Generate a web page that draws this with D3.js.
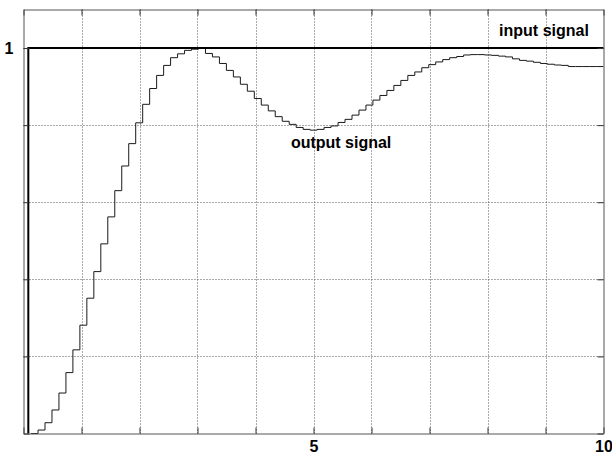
<!DOCTYPE html>
<html>
<head>
<meta charset="utf-8">
<script src="https://cdn.jsdelivr.net/npm/d3@7"></script>
<style>
  body { margin: 0; background: #fff; }
  svg { display: block; }
</style>
</head>
<body>
<div id="chart"></div>
<script>
// eixos
const xTicks = [0, 1, 2, 3, 4, 5, 6, 7, 8, 9, 10];
const xLabels = [5, 10];
const yTicks = [0, 0.2, 0.4, 0.6, 0.8, 1];
const yLabels = [1];

// entrada: degrau
const inputTime = [0.083, 0.083, 10];
const inputValue = [0, 1, 1];

// saída amostrada (segurador de ordem zero)
const sampleStart = 0.13;
const sampleTime = 0.1203;
const outputValue = [
  0, 0.009, 0.028, 0.061, 0.105, 0.158, 0.217, 0.281, 0.351, 0.420,
  0.492, 0.562, 0.630, 0.694, 0.752, 0.806, 0.854, 0.895, 0.929, 0.955,
  0.975, 0.985, 0.994, 0.997, 0.999, 0.986, 0.977, 0.960, 0.942, 0.925,
  0.906, 0.888, 0.869, 0.852, 0.837, 0.822, 0.810, 0.802, 0.794, 0.789,
  0.787, 0.789, 0.794, 0.798, 0.807, 0.815, 0.826, 0.839, 0.852, 0.865,
  0.877, 0.890, 0.903, 0.916, 0.929, 0.938, 0.949, 0.957, 0.964, 0.970,
  0.975, 0.978, 0.982, 0.983, 0.983, 0.982, 0.981, 0.979, 0.977, 0.972,
  0.968, 0.966, 0.963, 0.960, 0.958, 0.956, 0.955, 0.952, 0.952, 0.952,
  0.952, 0.952, 0.952
];

const labels = [
  { text: 'input signal', t: 8.2, v: 1.03 },
  { text: 'output signal', t: 4.61, v: 0.741 }
];

const largura = 612, altura = 455;
const font = '"Liberation Sans", Arial, sans-serif';

const svg = d3.select('#chart')
  .append('svg')
  .attr('width', largura)
  .attr('height', altura)
  .attr('viewBox', '0 0 ' + largura + ' ' + altura);

const x = d3.scaleLinear().domain([0, 10]).range([23.5, 603.5]);
const y = d3.scaleLinear().domain([0, 1.1]).range([433.5, 9.5]);

// grade pontilhada
const grid = svg.append('g').attr('class', 'grid')
  .attr('stroke', '#555')
  .attr('stroke-width', 1)
  .attr('stroke-dasharray', '1,2');
grid.selectAll('line.v')
  .data(xTicks.slice(1, -1))
  .enter()
  .append('line')
  .attr('class', 'v')
  .attr('x1', d => Math.round(x(d)) + 0.5)
  .attr('x2', d => Math.round(x(d)) + 0.5)
  .attr('y1', y.range()[0])
  .attr('y2', y.range()[1]);
grid.selectAll('line.h')
  .data(yTicks.slice(1))
  .enter()
  .append('line')
  .attr('class', 'h')
  .attr('y1', d => Math.round(y(d)) + 0.5)
  .attr('y2', d => Math.round(y(d)) + 0.5)
  .attr('x1', x.range()[0])
  .attr('x2', x.range()[1]);

// sinal de saída
const output = outputValue.map((v, i) => [sampleStart + i * sampleTime, v]);
output.push([10, outputValue[outputValue.length - 1]]);
const stepLine = d3.line()
  .x(d => x(d[0]))
  .y(d => y(d[1]))
  .curve(d3.curveStepAfter);
svg.append('path')
  .datum(output)
  .attr('d', stepLine)
  .attr('fill', 'none')
  .attr('stroke', '#1a1a1a')
  .attr('stroke-width', 1);

// sinal de entrada
const input = inputTime.map((t, i) => [t, inputValue[i]]);
svg.append('path')
  .datum(input)
  .attr('d', d3.line().x(d => x(d[0])).y(d => y(d[1])))
  .attr('fill', 'none')
  .attr('stroke', '#000')
  .attr('stroke-width', 2);

// moldura e marcas
const fmtX = d => xLabels.includes(d) ? d : '';
const fmtY = d => yLabels.includes(d) ? d : '';
const axes = [
  { gen: d3.axisBottom(x).tickValues(xTicks).tickFormat(fmtX).tickPadding(7), tr: [0, y.range()[0]] },
  { gen: d3.axisTop(x).tickValues(xTicks).tickFormat(''), tr: [0, y.range()[1]] },
  { gen: d3.axisLeft(y).tickValues(yTicks).tickFormat(fmtY).tickPadding(10), tr: [x.range()[0], 0] },
  { gen: d3.axisRight(y).tickValues(yTicks).tickFormat(''), tr: [x.range()[1], 0] }
];
axes.forEach(a => {
  const g = svg.append('g')
    .attr('transform', 'translate(' + a.tr[0] + ',' + a.tr[1] + ')')
    .call(a.gen.tickSizeInner(-6).tickSizeOuter(0));
  g.select('.domain').attr('stroke', '#555');
  g.selectAll('.tick line').attr('stroke', '#333');
  g.selectAll('text')
    .attr('fill', '#000')
    .attr('font-family', font)
    .attr('font-size', 16)
    .attr('font-weight', 'bold');
});

// rótulos
svg.selectAll('text.rotulo')
  .data(labels)
  .enter()
  .append('text')
  .attr('class', 'rotulo')
  .attr('x', d => x(d.t))
  .attr('y', d => y(d.v))
  .attr('font-family', font)
  .attr('font-size', 16)
  .attr('font-weight', 'bold')
  .attr('fill', '#000')
  .text(d => d.text);
</script>
</body>
</html>
